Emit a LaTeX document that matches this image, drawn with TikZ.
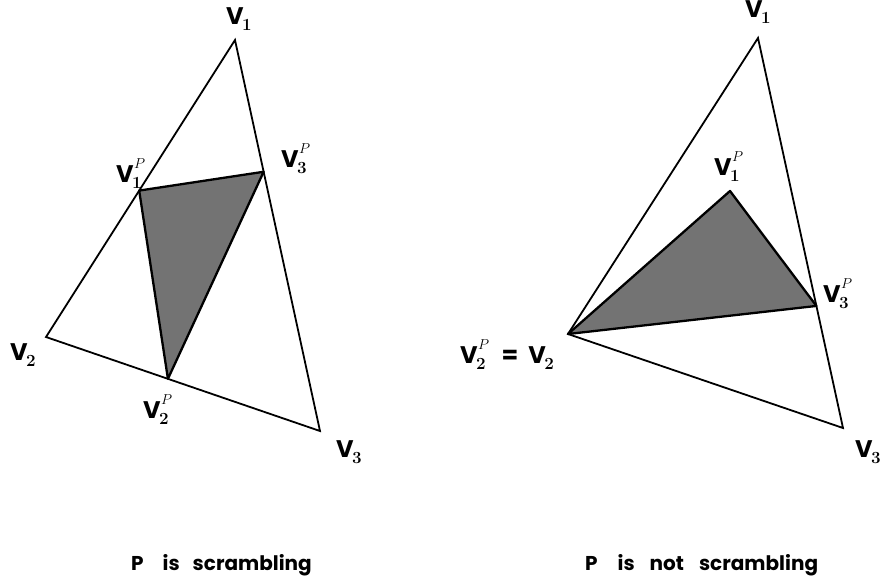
\documentclass[tikz,border=0pt]{standalone}
\usepackage{fontspec}
\newfontfamily\labfont{Poppins}
\usetikzlibrary{calc}
\newcommand\Vl[2]{V\kern-1.5pt\rlap{\raisebox{-6pt}{\normalfont\bfseries\fontsize{17}{17}\selectfont #1}}\kern2pt\rlap{\raisebox{14pt}{\normalfont\fontsize{15}{15}\selectfont$#2$}}\phantom{\normalfont\bfseries\fontsize{17}{17}\selectfont #1}}
\begin{document}
\begin{tikzpicture}[x=1pt,y=-1pt,
  edge/.style={line width=1.8pt, line join=miter},
  shadetri/.style={fill=black!55, draw=black, line width=2.3pt, line join=round},
  vlab/.style={font=\labfont\bfseries\fontsize{24}{24}\selectfont, inner sep=0pt},
  captxt/.style={font=\labfont\bfseries\fontsize{20}{20}\selectfont, inner sep=0pt, anchor=base west}]
\useasboundingbox (0,0) rectangle (883,587);
% left figure
\coordinate (L1) at (235,40);
\coordinate (L2) at (46,337);
\coordinate (L3) at (320,431);
\coordinate (L1P) at ($(L1)!0.507!(L2)$);
\coordinate (L3P) at ($(L1)!0.337!(L3)$);
\coordinate (L2P) at ($(L2)!0.445!(L3)$);
\draw[edge] (L1) -- (L2) -- (L3) -- cycle;
\draw[shadetri] (L1P) -- (L3P) -- (L2P) -- cycle;
\node[vlab] (lv1) at (240,19) {\Vl{1}{}};
\node[vlab] (lv1p) at (130,174) {\Vl{1}{P}};
\node[vlab] (lv3p) at (295,159) {\Vl{3}{P}};
\node[vlab] (lv2) at (24,355) {\Vl{2}{}};
\node[vlab] (lv2p) at (157,410) {\Vl{2}{P}};
\node[vlab] (lv3) at (350,452) {\Vl{3}{}};
% right figure
\coordinate (R1) at (758,38);
\coordinate (R2) at (568,334);
\coordinate (R3) at (843,428);
\coordinate (R1P) at (730,191);
\coordinate (R3P) at ($(R1)!0.687!(R3)$);
\draw[edge] (R1) -- (R2) -- (R3) -- cycle;
\draw[shadetri] (R2) -- (R1P) -- (R3P) -- cycle;
\node[vlab] (rv1) at (759,12) {\Vl{1}{}};
\node[vlab] (rv1p) at (728,167) {\Vl{1}{P}};
\node[vlab] (rv3p) at (837,294) {\Vl{3}{P}};
\node[vlab] (rv2) at (508,355) {\Vl{2}{P}\hspace{14pt}=\hspace{10pt}\Vl{2}{}};
\node[vlab] (rv3) at (869,452) {\Vl{3}{}};
% captions
\node[captxt] (lcap) at (131,570) {P\hspace{19pt}is\hspace{13pt}scrambling};
\node[captxt] (rcap) at (585,570) {P\hspace{20pt}is\hspace{15pt}not\hspace{15pt}scrambling};
\end{tikzpicture}
\end{document}
